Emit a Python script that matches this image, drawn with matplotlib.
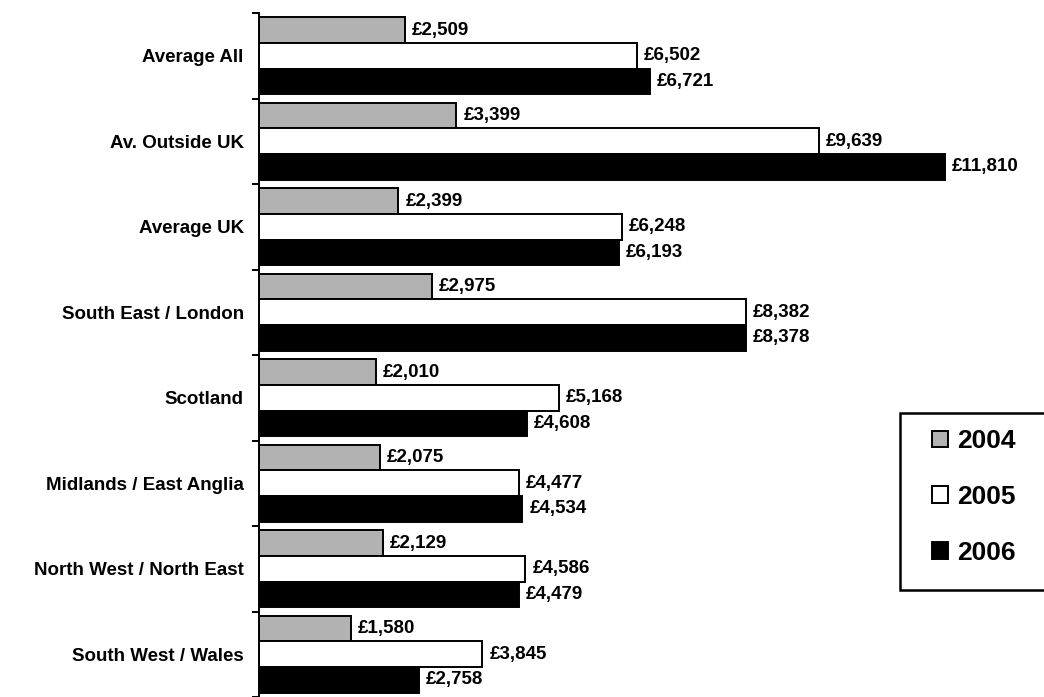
import matplotlib.pyplot as plt
import numpy as np
from matplotlib.patches import Patch, Rectangle

plt.rcParams['font.family'] = ['Liberation Sans', 'DejaVu Sans']
plt.rcParams['font.weight'] = 'bold'

categories = ['Average All', 'Av. Outside UK', 'Average UK', 'South East / London',
              'Scotland', 'Midlands / East Anglia', 'North West / North East',
              'South West / Wales']
years = ['2004', '2005', '2006']
v2004 = [2509, 3399, 2399, 2975, 2010, 2075, 2129, 1580]
v2005 = [6502, 9639, 6248, 8382, 5168, 4477, 4586, 3845]
v2006 = [6721, 11810, 6193, 8378, 4608, 4534, 4479, 2758]
colors = ['#b2b2b2', '#ffffff', '#000000']

fig = plt.figure(figsize=(10.44, 6.97), dpi=100)
ax = fig.add_axes([259 / 1044, 0, 785 / 1044, 1 - 13 / 697])

y = np.arange(len(categories))
h = 0.3
for i, (vals, c) in enumerate(zip([v2004, v2005, v2006], colors)):
    pos = y - h + i * h
    ax.barh(pos, vals, height=h, color=c, edgecolor='black', linewidth=1.4)
    for p, v in zip(pos, vals):
        ax.annotate(f'£{v:,}', (v, p), xytext=(5, 0), textcoords='offset points',
                    va='center', ha='left', fontsize=13.5, fontweight='bold')

ax.set_xlim(0, 13510)
ax.set_ylim(len(categories) - 0.5, -0.5)
ax.set_yticks(y)
ax.set_yticklabels(categories, fontsize=13.5, fontweight='bold')
ax.tick_params(axis='y', which='major', length=0, pad=11)
ax.set_yticks(np.arange(len(categories) + 1) - 0.5, minor=True)
ax.tick_params(axis='y', which='minor', length=5, width=1.4)
ax.set_xticks([])
for s in ['top', 'right', 'bottom']:
    ax.spines[s].set_visible(False)
ax.spines['left'].set_linewidth(1.4)

# legend box, runs off the right edge like the original
fig.patches.append(Rectangle((900 / 1044, 1 - 590 / 697), 160 / 1044, 177 / 697,
                             transform=fig.transFigure, facecolor='white',
                             edgecolor='black', linewidth=1.8, zorder=5))
handles = [Patch(facecolor=c, edgecolor='black', linewidth=1.4) for c in colors]
leg = fig.legend(handles, years, loc='center left',
                 bbox_to_anchor=(932 / 1044, 1 - 497 / 697),
                 prop={'size': 19, 'weight': 'bold'}, frameon=False,
                 handlelength=0.6, handleheight=0.6, handletextpad=0.35,
                 labelspacing=1.2, borderpad=0, borderaxespad=0)
leg.set_zorder(6)

plt.savefig('out.png')
plt.close()
